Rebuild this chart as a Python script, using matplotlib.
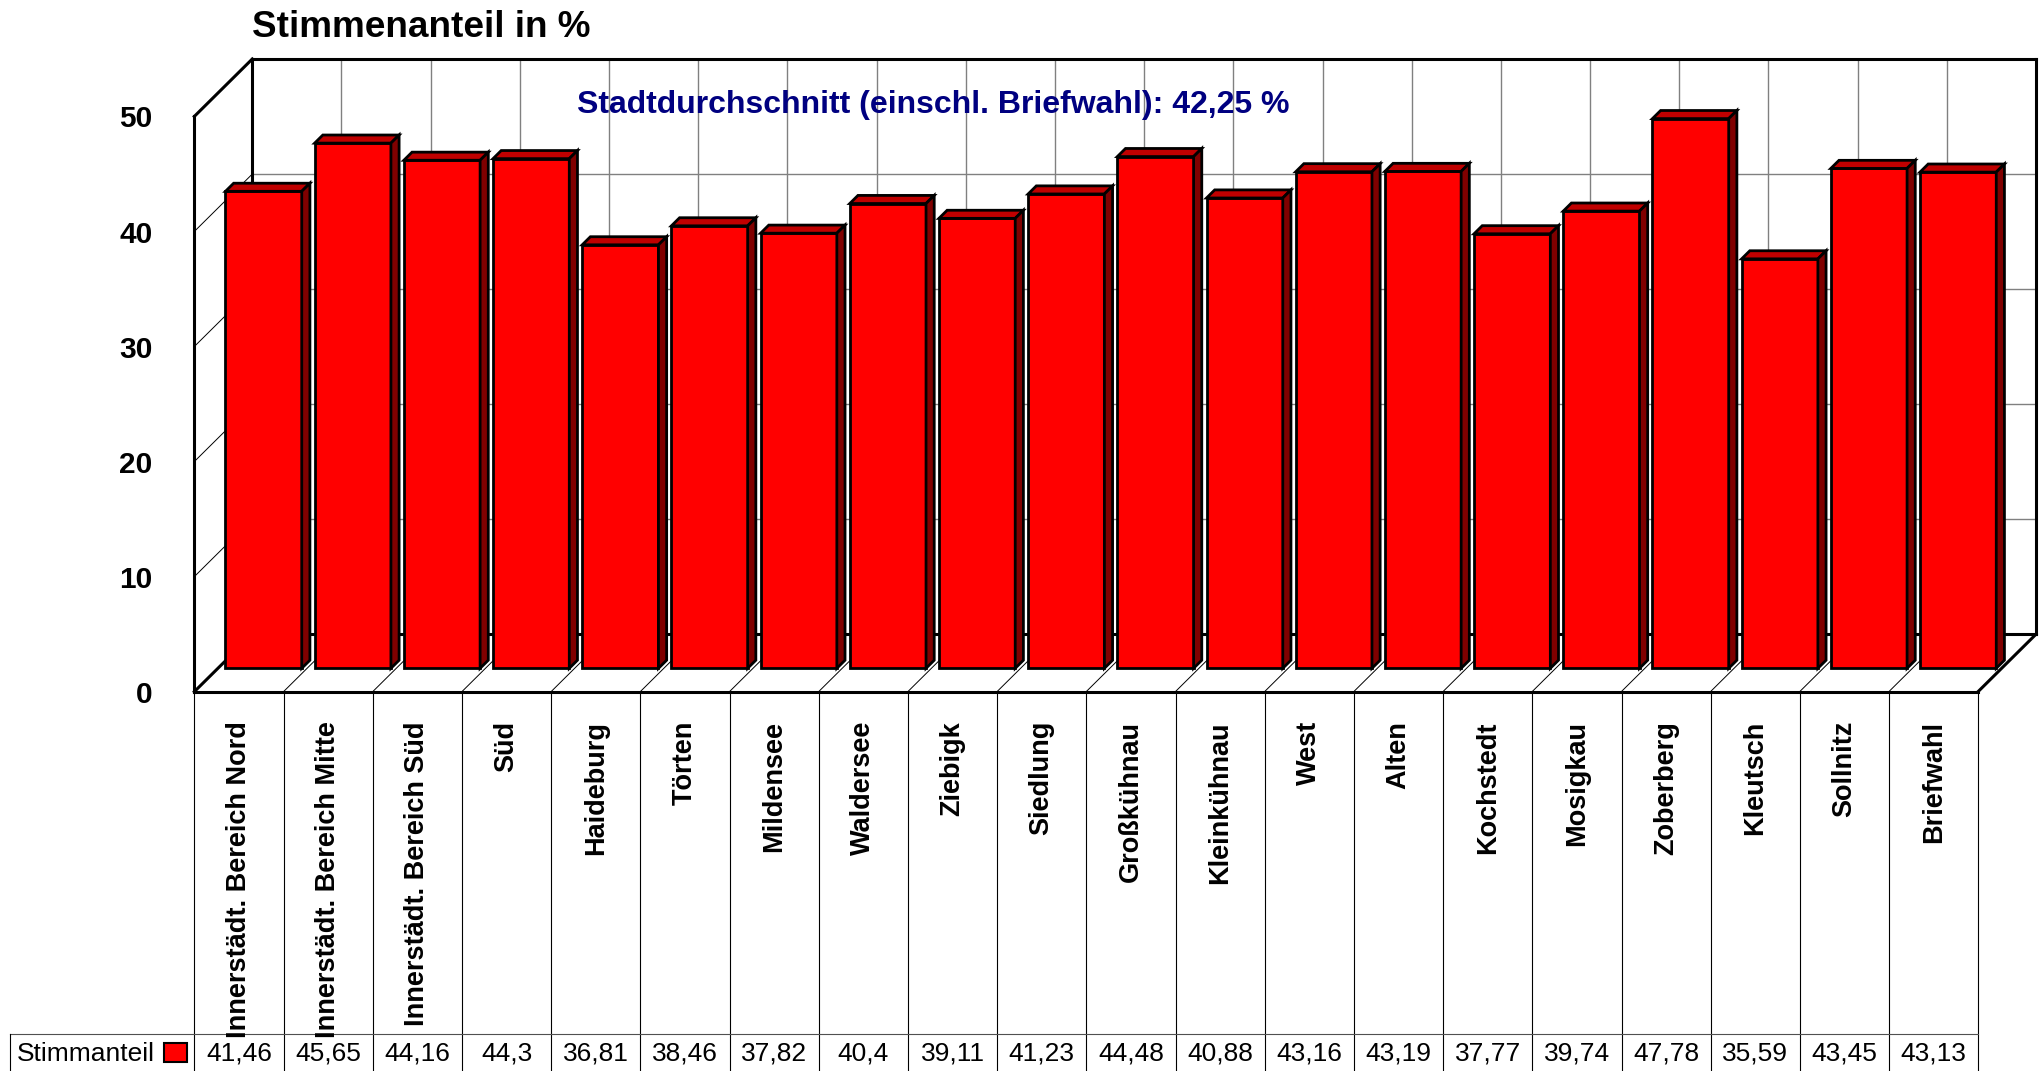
import matplotlib
matplotlib.use("Agg")
import matplotlib.pyplot as plt
from matplotlib.patches import Polygon, Rectangle

plt.rcParams['font.family'] = ['Liberation Sans', 'DejaVu Sans']

# --- data ---
districts = ["Innerstädt. Bereich Nord", "Innerstädt. Bereich Mitte", "Innerstädt. Bereich Süd",
             "Süd", "Haideburg", "Törten", "Mildensee", "Waldersee", "Ziebigk", "Siedlung",
             "Großkühnau", "Kleinkühnau", "West", "Alten", "Kochstedt", "Mosigkau",
             "Zoberberg", "Kleutsch", "Sollnitz", "Briefwahl"]
shares = [41.46, 45.65, 44.16, 44.3, 36.81, 38.46, 37.82, 40.4, 39.11, 41.23,
          44.48, 40.88, 43.16, 43.19, 37.77, 39.74, 47.78, 35.59, 43.45, 43.13]
y_ticks = [0, 10, 20, 30, 40, 50]
series_name = "Stimmanteil"
city_avg = "Stadtdurchschnitt (einschl. Briefwahl): 42,25 %"

W, H = 2042, 1071
fig = plt.figure(figsize=(W / 100, H / 100), dpi=100)

# pixel layout of the 3d box (front-left-bottom corner, back-right-top corner)
px_left, px_right = 194.3, 2036.0
px_top, px_bottom = 59.0, 691.7
n = len(districts)
ymax = y_ticks[-1]
KX = 58.0 / ((1978.3 - px_left) / n)      # depth shift in category units
KY = 57.5 / ((px_bottom - 116.0) / ymax)  # depth shift in value units

ax = fig.add_axes([px_left / W, 1 - px_bottom / H, (px_right - px_left) / W, (px_bottom - px_top) / H])
ax.set_xlim(0, n + KX)
ax.set_ylim(0, ymax + KY)
for s in ax.spines.values():
    s.set_visible(False)
ax.set_xticks([])
ax.set_yticks(y_ticks)
ax.set_yticklabels([str(t) for t in y_ticks], fontsize=21.5, fontweight='bold')
ax.tick_params(axis='y', length=0, pad=30)


def proj(x, y, z):
    return x + z * KX, y + z * KY


def line3(p, q, **kw):
    a, b = proj(*p), proj(*q)
    ax.plot([a[0], b[0]], [a[1], b[1]], solid_capstyle='projecting', clip_on=False, **kw)


thick = dict(color='black', lw=2.2)
grid = dict(color='#808080', lw=1.0)
thin = dict(color='black', lw=0.7)

# back wall gridlines
for t in y_ticks[1:-1]:
    line3((0, t, 1), (n, t, 1), **grid)
for i in range(1, n):
    line3((i, 0, 1), (i, ymax, 1), **grid)
# left wall gridlines
for t in y_ticks[1:-1]:
    line3((0, t, 0), (0, t, 1), **thin)
# floor dividers
for i in range(1, n):
    line3((i, 0, 0), (i, 0, 1), **thin)

# frame
line3((0, 0, 1), (0, ymax, 1), **thick)
line3((0, ymax, 1), (n, ymax, 1), **thick)
line3((n, ymax, 1), (n, 0, 1), **thick)
line3((0, 0, 1), (n, 0, 1), **thick)
line3((0, 0, 0), (0, ymax, 0), **thick)
line3((0, ymax, 0), (0, ymax, 1), **thick)
line3((0, 0, 0), (0, 0, 1), **thick)
line3((n, 0, 0), (n, 0, 1), **thick)
line3((0, 0, 0), (n, 0, 0), **thick)

# bars
bx0, bw = 0.085, 0.855
z0, z1 = 0.407, 0.548
for i, v in enumerate(shares):
    x0, x1 = i + bx0, i + bx0 + bw
    faces = [
        ([(x0, 0, z0), (x1, 0, z0), (x1, v, z0), (x0, v, z0)], '#FF0000'),
        ([(x0, v, z0), (x1, v, z0), (x1, v, z1), (x0, v, z1)], '#C00000'),
        ([(x1, 0, z0), (x1, 0, z1), (x1, v, z1), (x1, v, z0)], '#800000'),
    ]
    for pts, col in faces:
        ax.add_patch(Polygon([proj(*p) for p in pts], closed=True, facecolor=col,
                             edgecolor='black', lw=2.0, joinstyle='miter', zorder=3))

# data table below the chart
tab = fig.add_axes([px_left / W, 0, (1978.3 - px_left) / W, 1 - px_bottom / H])
tab.set_xlim(0, n)
tab.set_ylim(H, px_bottom)
tab.axis('off')
row_y = 1034
for i in range(n + 1):
    tab.plot([i, i], [px_bottom, H], color='black', lw=0.8, clip_on=False)
cell_w = (1978.3 - px_left) / n
left_edge = (10 - px_left) / cell_w
tab.plot([left_edge, n], [row_y, row_y], color='#505050', lw=0.8, clip_on=False)
tab.plot([left_edge, left_edge], [row_y, H], color='black', lw=0.8, clip_on=False)
for i, (name, v) in enumerate(zip(districts, shares)):
    tab.text(i + 0.5, 721, name, rotation=90, ha='center', va='top',
             fontsize=19.5, fontweight='bold')
    tab.text(i + 0.5, 1054, str(v).replace('.', ','), ha='center', va='center', fontsize=19)
tab.text((17 - px_left) / cell_w, 1054, series_name, ha='left', va='center', fontsize=19, clip_on=False)
tab.add_patch(Rectangle(((164 - px_left) / cell_w, 1062), 23 / cell_w, -19,
                        facecolor='#FF0000', edgecolor='black', lw=1.5, clip_on=False))

# titles
fig.text(252 / W, 1 - 36.7 / H, "Stimmenanteil in %", fontsize=26.6, fontweight='bold',
         ha='left', va='baseline')
fig.text(577 / W, 1 - 113 / H, city_avg, fontsize=23, fontweight='bold', color='#000080',
         ha='left', va='baseline')

fig.savefig('out.png', dpi=100)
